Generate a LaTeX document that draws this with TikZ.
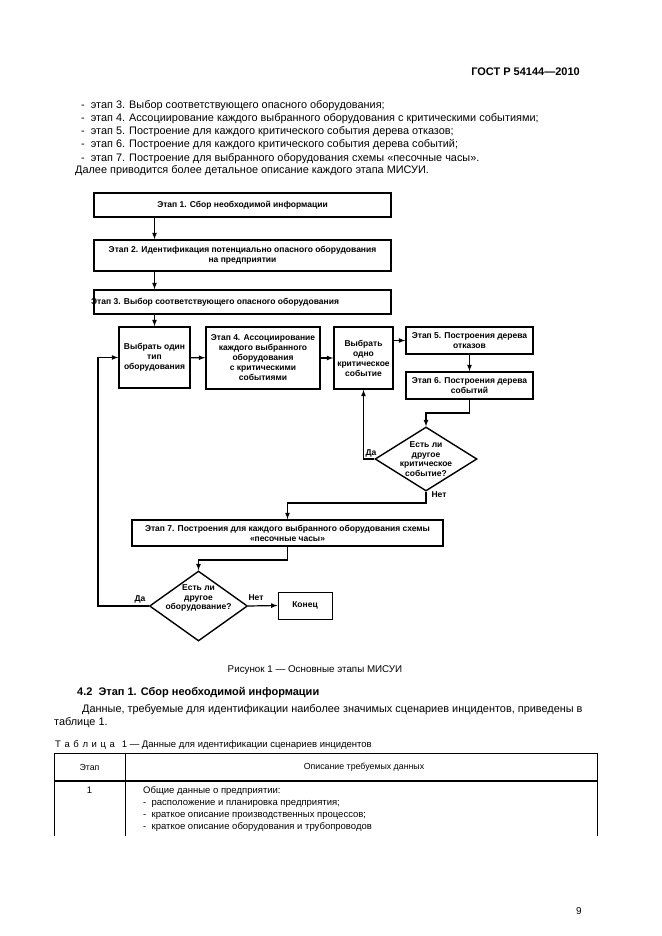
\documentclass[tikz,border=0pt]{standalone}
\usepackage{fontspec}
\setmainfont{Liberation Sans}
\usetikzlibrary{shapes.geometric,positioning}

\tikzset{
  stage/.style={draw, line width=1.6pt, inner sep=0pt, align=center,
    font=\fontsize{8.5}{10}\selectfont\bfseries},
  decision/.style={draw, shape=diamond, line width=1.4pt, inner sep=0pt},
  dtext/.style={align=center, font=\fontsize{8.5}{9.5}\selectfont\bfseries},
  lbl/.style={font=\fontsize{8.5}{9}\selectfont\bfseries, inner sep=0pt},
  conn/.style={line width=1.2pt, -latex},
  body/.style={anchor=base west, inner sep=0pt, font=\fontsize{10.9}{13}\selectfont},
  small/.style={anchor=base west, inner sep=0pt, font=\fontsize{9.5}{12}\selectfont},
}

\begin{document}
\begin{tikzpicture}[x=1pt, y=-1pt]
  \useasboundingbox (0,0) rectangle (661,936);
  \fill[white] (0,0) rectangle (661,936);

  % page text above the figure
  \node[anchor=base east, inner sep=0pt, font=\fontsize{11}{13}\selectfont\bfseries] (gost) at (580,76) {ГОСТ Р 54144—2010};
  \node[body] (l3) at (81,109) {- \ этап 3. Выбор соответствующего опасного оборудования;};
  \node[body] (l4) at (81,122) {- \ этап 4. Ассоциирование каждого выбранного оборудования с критическими событиями;};
  \node[body] (l5) at (81,135) {- \ этап 5. Построение для каждого критического события дерева отказов;};
  \node[body] (l6) at (81,148) {- \ этап 6. Построение для каждого критического события дерева событий;};
  \node[body] (l7) at (81,161) {- \ этап 7. Построение для выбранного оборудования схемы «песочные часы».};
  \node[body] (further) at (75,174) {Далее приводится более детальное описание каждого этапа МИСУИ.};

  % flowchart
  \node[stage, minimum width=297, minimum height=24] (s1) at (242.5,205) {Этап 1. Сбор необходимой информации};
  \node[stage, minimum width=297, minimum height=31] (s2) at (242.5,255.5) {Этап 2. Идентификация потенциально опасного оборудования\\на предприятии};
  \node[stage, minimum width=297, minimum height=24] (s3) at (242.5,302) {};
  \node[anchor=west, inner sep=0pt, font=\fontsize{8.5}{10}\selectfont\bfseries] (s3text) at (91,302) {Этап 3. Выбор соответствующего опасного оборудования};
  \node[stage, minimum width=71, minimum height=61] (pick) at (154.5,357.5) {Выбрать один\\тип\\оборудования};
  \node[stage, minimum width=114, minimum height=62] (s4) at (263,358) {Этап 4. Ассоциирование\\каждого выбранного\\оборудования\\с критическими\\событиями};
  \node[stage, minimum width=59, minimum height=62] (event) at (363.5,358) {Выбрать\\одно\\критическое\\событие};
  \node[stage, minimum width=127, minimum height=27] (s5) at (469.5,340.5) {Этап 5. Построения дерева\\отказов};
  \node[stage, minimum width=127, minimum height=27] (s6) at (469.5,385.5) {Этап 6. Построения дерева\\событий};
  \node[decision, minimum width=102, minimum height=64] (moreev) at (426,459) {};
  \node[dtext] (moreevtext) at (426,459) {Есть ли\\другое\\критическое\\событие?};
  \node[stage, minimum width=311, minimum height=26] (s7) at (287.5,533) {Этап 7. Построения для каждого выбранного оборудования схемы\\«песочные часы»};
  \node[decision, minimum width=98, minimum height=70] (moreeq) at (198.5,606) {};
  \node[dtext] (moreeqtext) at (198.5,598) {Есть ли\\другое\\оборудование?};
  \node[stage, line width=1pt, minimum width=54, minimum height=27] (stop) at (305,605.5) {Конец};

  \coordinate (k1) at (469.5,413);
  \coordinate (k2) at (426,503);
  \coordinate (k3) at (287.5,560);
  \coordinate (k4) at (98,606);

  \draw[conn] (s1.south -| pick) -- (s2.north -| pick);
  \draw[conn] (s2.south -| pick) -- (s3.north -| pick);
  \draw[conn] (s3.south -| pick) -- (pick.north);
  \draw[conn] (pick) -- (s4);
  \draw[conn] (s4) -- (event);
  \draw[conn] (event.east |- s5) -- (s5.west);
  \draw[conn] (s5) -- (s6);
  \draw[conn] (s6.south) -- (k1) -| (moreev.north);
  \draw[conn] (moreev.west) -| (event.south);
  \draw[conn] (moreev.south) -- (k2) -| (s7.north);
  \draw[conn] (s7.south) -- (k3) -| (moreeq.north);
  \draw[conn] (moreeq.west) -- (k4) |- (pick.west);
  \draw[conn] (moreeq.east) -- (stop.west);

  \node[lbl] (yes1) at (371,453) {Да};
  \node[lbl] (no1) at (439,495) {Нет};
  \node[lbl] (yes2) at (140,599) {Да};
  \node[lbl] (no2) at (256,598) {Нет};

  % caption and section 4.2
  \node[anchor=base, inner sep=0pt, font=\fontsize{9.8}{11}\selectfont] (caption) at (315,672) {Рисунок 1 — Основные этапы МИСУИ};
  \node[body, font=\fontsize{11}{13}\selectfont\bfseries] (sec) at (77,695) {4.2\ \ Этап 1. Сбор необходимой информации};
  \node[body] (para1) at (82,712) {Данные, требуемые для идентификации наиболее значимых сценариев инцидентов, приведены в};
  \node[body] (para2) at (54,725) {таблице 1.};

  % table 1
  \node[anchor=base west, inner sep=0pt, font=\fontsize{9.5}{10}\selectfont] (tcap) at (55,747) {Т\hspace{3.6pt}а\hspace{3.6pt}б\hspace{3.6pt}л\hspace{3.6pt}и\hspace{3.6pt}ц\hspace{3.6pt}а\hspace{7pt}1 — Данные для идентификации сценариев инцидентов};
  \draw[line width=0.8pt] (54,836) -- (54,753) -- (597,753) -- (597,836);
  \draw[line width=0.8pt] (125,753) -- (125,836);
  \draw[line width=1.6pt] (54,781) -- (597,781);
  \node[inner sep=0pt, font=\fontsize{8.8}{10}\selectfont] (hstage) at (89.5,767.5) {Этап};
  \node[inner sep=0pt, font=\fontsize{8.8}{10}\selectfont] (hdesc) at (364,767.5) {Описание требуемых данных};
  \node[small, anchor=base] (r1) at (89.5,793) {1};
  \node[small] (r1a) at (143,793) {Общие данные о предприятии:};
  \node[small] (r1b) at (143,805) {- \ расположение и планировка предприятия;};
  \node[small] (r1c) at (143,817) {- \ краткое описание производственных процессов;};
  \node[small] (r1d) at (143,829) {- \ краткое описание оборудования и трубопроводов};

  \node[anchor=base east, inner sep=0pt, font=\fontsize{10}{12}\selectfont] (page) at (582,914) {9};
\end{tikzpicture}
\end{document}
